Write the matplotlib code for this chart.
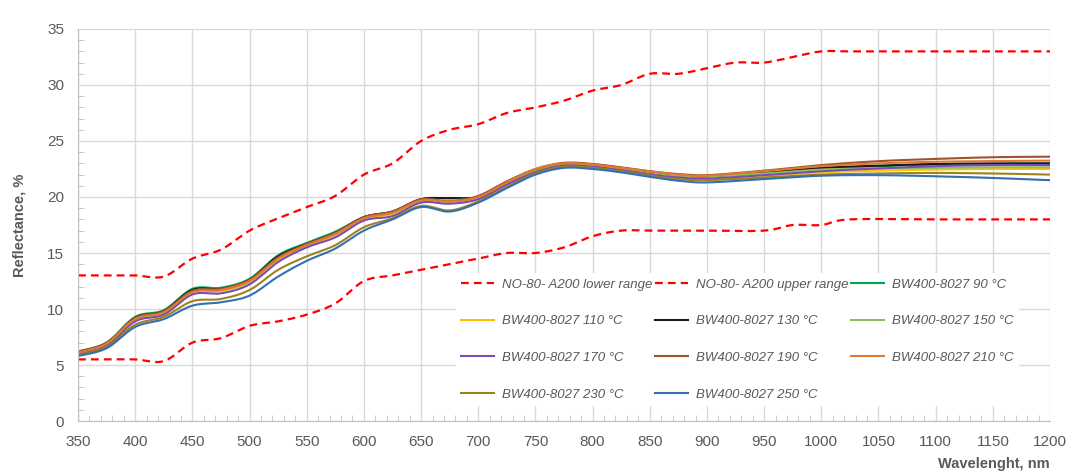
import numpy as np
import matplotlib.pyplot as plt
from matplotlib.ticker import MultipleLocator

# range limits (dashed)
lower_x = [350, 375, 400, 425, 450, 475, 500, 525, 550, 575, 600, 625, 650, 675, 700, 725,
           750, 775, 800, 825, 850, 900, 950, 975, 1000, 1025, 1100, 1200]
lower_y = [5.5, 5.5, 5.5, 5.35, 7.0, 7.4, 8.5, 8.9, 9.5, 10.5, 12.5, 13.0, 13.5, 14.0, 14.5, 15.0,
           15.0, 15.5, 16.5, 17.0, 17.0, 17.0, 17.0, 17.5, 17.5, 18.0, 18.0, 18.0]
upper_x = [350, 375, 400, 425, 450, 475, 500, 525, 550, 575, 600, 625, 650, 675, 700, 725,
           750, 775, 800, 825, 850, 875, 900, 925, 950, 975, 1000, 1025, 1100, 1200]
upper_y = [13.0, 13.0, 13.0, 12.9, 14.5, 15.3, 17.0, 18.1, 19.1, 20.1, 22.0, 23.0, 25.0, 26.0, 26.5, 27.5,
           28.0, 28.6, 29.5, 30.0, 31.0, 31.0, 31.5, 32.0, 32.0, 32.5, 33.0, 33.0, 33.0, 33.0]

# measured samples
wl = [350, 375, 400, 425, 450, 475, 500, 525, 550, 575, 600, 625, 650, 675, 700, 725, 750, 775,
      800, 825, 850, 875, 900, 950, 1000, 1050, 1100, 1150, 1200]
r90 = [6.2, 7.0, 9.3, 9.9, 11.8, 11.9, 12.7, 14.8, 15.9, 16.9, 18.2, 18.7, 19.8, 19.9, 20.0, 21.3, 22.4, 23.0,
       22.9, 22.6, 22.2, 21.95, 21.85, 22.15, 22.55, 22.75, 22.9, 22.95, 23.0]
r110 = [6.0, 6.8, 9.0, 9.6, 11.5, 11.6, 12.4, 14.4, 15.6, 16.6, 18.0, 18.5, 19.6, 19.6, 19.9, 21.2, 22.3, 22.9,
        22.8, 22.45, 22.0, 21.7, 21.6, 21.9, 22.2, 22.35, 22.45, 22.5, 22.5]
r130 = [6.1, 6.9, 9.2, 9.8, 11.7, 11.8, 12.6, 14.7, 15.8, 16.8, 18.2, 18.7, 19.8, 19.9, 20.0, 21.3, 22.4, 23.0,
        22.9, 22.6, 22.2, 21.95, 21.85, 22.2, 22.6, 22.8, 22.95, 23.0, 23.0]
r150 = [6.1, 6.9, 9.1, 9.7, 11.6, 11.7, 12.5, 14.5, 15.7, 16.7, 18.1, 18.6, 19.7, 19.7, 20.0, 21.3, 22.4, 23.0,
        22.85, 22.55, 22.2, 21.9, 21.85, 22.1, 22.45, 22.55, 22.6, 22.65, 22.65]
r170 = [6.0, 6.7, 8.9, 9.5, 11.3, 11.4, 12.2, 14.2, 15.5, 16.4, 17.9, 18.3, 19.5, 19.4, 19.8, 21.1, 22.2, 22.8,
        22.7, 22.4, 22.0, 21.75, 21.65, 21.95, 22.3, 22.55, 22.75, 22.85, 22.85]
r190 = [6.2, 7.0, 9.2, 9.8, 11.6, 11.8, 12.6, 14.6, 15.8, 16.8, 18.2, 18.7, 19.8, 19.6, 20.1, 21.4, 22.5, 23.05,
        22.95, 22.65, 22.3, 22.05, 21.95, 22.35, 22.85, 23.2, 23.4, 23.55, 23.6]
r210 = [6.1, 6.9, 9.1, 9.7, 11.5, 11.7, 12.5, 14.5, 15.7, 16.7, 18.1, 18.6, 19.7, 19.6, 20.0, 21.3, 22.5, 23.0,
        22.9, 22.6, 22.3, 22.0, 21.9, 22.3, 22.75, 23.0, 23.15, 23.2, 23.25]
r230 = [5.9, 6.6, 8.6, 9.3, 10.7, 10.9, 11.7, 13.5, 14.7, 15.7, 17.3, 18.1, 19.2, 18.8, 19.6, 20.9, 22.1, 22.7,
        22.6, 22.3, 21.9, 21.6, 21.5, 21.75, 22.0, 22.1, 22.15, 22.1, 22.0]
r250 = [5.8, 6.5, 8.4, 9.1, 10.3, 10.6, 11.2, 12.9, 14.3, 15.4, 17.0, 18.0, 19.1, 18.7, 19.5, 20.8, 22.0, 22.6,
        22.5, 22.2, 21.8, 21.45, 21.3, 21.6, 21.9, 21.95, 21.85, 21.7, 21.5]

names = ['BW400-8027 90 °C', 'BW400-8027 110 °C', 'BW400-8027 130 °C', 'BW400-8027 150 °C',
         'BW400-8027 170 °C', 'BW400-8027 190 °C', 'BW400-8027 210 °C', 'BW400-8027 230 °C',
         'BW400-8027 250 °C']
series = [r90, r110, r130, r150, r170, r190, r210, r230, r250]
colors = ['#00A650', '#FFC000', '#1A1A1A', '#8CC05A', '#7B4BB8', '#A0522D', '#E07A30', '#A08020', '#3370B0']


def smooth(x, y, n=20):
    # excel-like smoothed line (catmull-rom as bezier)
    p = np.column_stack([x, y]).astype(float)
    p = np.vstack([p[0], p, p[-1]])
    t = np.linspace(0, 1, n)[:, None]
    out = []
    for i in range(1, len(p) - 2):
        a, b = p[i], p[i + 1]
        c1 = a + (p[i + 1] - p[i - 1]) / 6
        c2 = b - (p[i + 2] - p[i]) / 6
        seg = (1 - t)**3 * a + 3 * (1 - t)**2 * t * c1 + 3 * (1 - t) * t**2 * c2 + t**3 * b
        out.append(seg if i == 1 else seg[1:])
    out = np.vstack(out)
    return out[:, 0], out[:, 1]


plt.rcParams['font.family'] = ['Liberation Sans', 'DejaVu Sans']
grey = '#595959'

fig = plt.figure(figsize=(10.72, 4.72), dpi=100)
ax = fig.add_axes([0.0728, 0.108, 0.9067, 0.8306])

handles = []
h, = ax.plot(*smooth(lower_x, lower_y), color='#FF0000', lw=1.6, dashes=(3.5, 2.3),
             label='NO-80- A200 lower range')
handles.append(h)
h, = ax.plot(*smooth(upper_x, upper_y), color='#FF0000', lw=1.6, dashes=(3.5, 2.3),
             label='NO-80- A200 upper range')
handles.append(h)
for vals, name, col in zip(series, names, colors):
    h, = ax.plot(*smooth(wl, vals), color=col, lw=1.5, label=name)
    handles.append(h)

ax.set_xlim(350, 1200)
ax.set_ylim(0, 35)
ax.xaxis.set_major_locator(MultipleLocator(50))
ax.xaxis.set_minor_locator(MultipleLocator(10))
ax.yaxis.set_major_locator(MultipleLocator(5))
ax.yaxis.set_minor_locator(MultipleLocator(1))
ax.grid(True, which='major', color='#D9D9D9', lw=1)
ax.set_axisbelow(True)
for s in ['top', 'right']:
    ax.spines[s].set_visible(False)
for s in ['left', 'bottom']:
    ax.spines[s].set_color('#BFBFBF')
ax.tick_params(which='major', length=0, pad=10, labelsize=11, labelcolor=grey)
ax.tick_params(which='minor', direction='in', length=4, color='#BFBFBF')

ax.set_ylabel('Reflectance, %', fontsize=10.5, fontweight='bold', color=grey, labelpad=15)
ax.set_xlabel('Wavelenght, nm', fontsize=10.5, fontweight='bold', color=grey, loc='right', labelpad=6)

# row-wise order for a 3-column legend
order = [0, 3, 6, 9, 1, 4, 7, 10, 2, 5, 8]
leg = ax.legend([handles[i] for i in order], [handles[i].get_label() for i in order],
                ncol=3, loc='lower right', bbox_to_anchor=(0.975, 0.022), frameon=True,
                fancybox=False, edgecolor='none', facecolor='white', framealpha=1,
                handlelength=2.5, handletextpad=0.6, columnspacing=0.2, labelspacing=1.85,
                prop={'size': 9.5, 'style': 'italic'})
for t in leg.get_texts():
    t.set_color(grey)

fig.savefig('out.png', dpi=100)
